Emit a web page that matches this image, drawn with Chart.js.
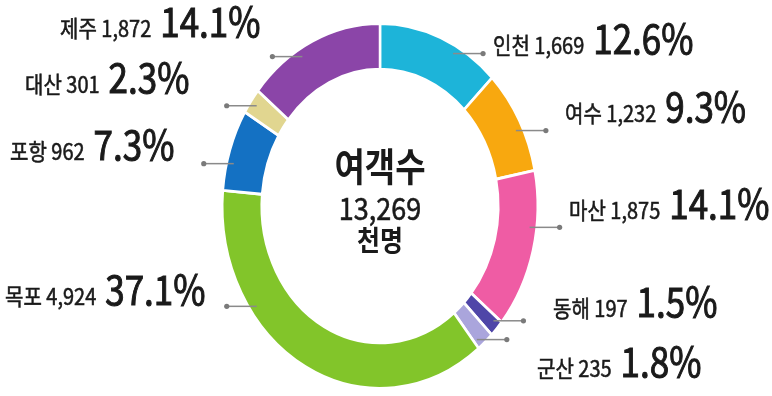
<!DOCTYPE html>
<html>
<head>
<meta charset="utf-8">
<script src="https://cdn.jsdelivr.net/npm/chart.js@4.4.0/dist/chart.umd.min.js"></script>
<style>
  html, body { margin: 0; padding: 0; background: #fff; }
  canvas { display: block; }
</style>
</head>
<body>
<canvas id="chart" width="772" height="396"></canvas>
<script>
// data
const ports = ['인천', '여수', '마산', '동해', '군산', '목포', '포항', '대산', '제주'];
const passengers = [1669, 1232, 1875, 197, 235, 4924, 962, 301, 1872];
const shares = ['12.6', '9.3', '14.1', '1.5', '1.8', '37.1', '7.3', '2.3', '14.1'];
const totalPassengers = 13269;
const colors = ['#1db4d9', '#f8a80f', '#ef5ca4', '#4f46a8', '#aaa5dc', '#82c52a', '#1471c3', '#e1d690', '#8b45a8'];

// the source picture is stretched vertically
const STRETCH = 1.156;

// label layout (left edge of text, baseline) and where on the slice the leader starts
const labelX = [493, 565, 569, 553, 537, 5, 10, 25, 60];
const labelY = [54, 122, 219, 317, 377, 305, 160, 93, 37];
const leaderAt = [0.64, 0.57, 0.36, 0.3, 0.8, 0.7, 0.35, 0.5, 0.39];

const FONT = '"Noto Sans CJK KR", "Noto Sans", sans-serif';

const stretchPlugin = {
    id: 'stretch',
    beforeDatasetsDraw(chart) {
        const arc = chart.getDatasetMeta(0).data[0];
        const ctx = chart.ctx;
        ctx.save();
        ctx.translate(arc.x, arc.y);
        ctx.scale(1, STRETCH);
        ctx.translate(-arc.x, -arc.y);
    },
    afterDatasetsDraw(chart) {
        chart.ctx.restore();
    }
};

// draws text squashed like the source; a thin stroke gives it a medium weight
function stretchedText(ctx, text, x, y, font, align, heavy) {
    ctx.save();
    ctx.translate(x, y);
    ctx.scale(1, STRETCH);
    ctx.font = font;
    ctx.textAlign = align || 'left';
    ctx.textBaseline = 'alphabetic';
    ctx.fillText(text, 0, 0);
    if (heavy) {
        ctx.strokeStyle = ctx.fillStyle;
        ctx.lineWidth = heavy;
        ctx.strokeText(text, 0, 0);
    }
    const w = ctx.measureText(text).width;
    ctx.restore();
    return w;
}

const labelPlugin = {
    id: 'labels',
    afterDraw(chart) {
        const ctx = chart.ctx;
        const arcs = chart.getDatasetMeta(0).data;

        arcs.forEach((arc, i) => {
            const p = arc.getProps(['x', 'y', 'startAngle', 'endAngle', 'outerRadius']);
            const a = p.startAngle + leaderAt[i] * (p.endAngle - p.startAngle);
            const r = p.outerRadius - 7;
            const sx = p.x + r * Math.cos(a);
            const sy = p.y + STRETCH * r * Math.sin(a);
            const ex = sx + (Math.cos(a) >= 0 ? 30 : -30);

            ctx.save();
            ctx.strokeStyle = '#8a8a8a';
            ctx.lineWidth = 1.5;
            ctx.beginPath();
            ctx.moveTo(sx, sy);
            ctx.lineTo(ex, sy);
            ctx.stroke();
            ctx.fillStyle = '#7a7a7a';
            ctx.beginPath();
            ctx.arc(ex, sy, 2.6, 0, Math.PI * 2);
            ctx.fill();
            ctx.restore();

            ctx.fillStyle = '#1a1a1a';
            const small = ports[i] + ' ' + passengers[i].toLocaleString('en-US');
            const w = stretchedText(ctx, small, labelX[i], labelY[i], '20px ' + FONT, 'left', 0.5);
            stretchedText(ctx, shares[i] + '%', labelX[i] + w + 9, labelY[i], '35px ' + FONT, 'left', 0.9);
        });

        // centre text
        const cx = arcs[0].x;
        ctx.fillStyle = '#1a1a1a';
        stretchedText(ctx, '여객수', cx, 181, 'bold 33px ' + FONT, 'center');
        stretchedText(ctx, totalPassengers.toLocaleString('en-US'), cx, 220, '27px ' + FONT, 'center', 0.5);
        stretchedText(ctx, '천명', cx, 251, 'bold 25px ' + FONT, 'center');
    }
};

new Chart(document.getElementById('chart'), {
    type: 'doughnut',
    data: {
        labels: ports,
        datasets: [{
            data: passengers,
            backgroundColor: colors,
            borderColor: '#ffffff',
            borderWidth: 2.5,
            hoverOffset: 0
        }]
    },
    options: {
        responsive: false,
        animation: false,
        cutout: '75%',
        layout: { padding: { left: 221, right: 233, top: 47, bottom: 31 } },
        plugins: {
            legend: { display: false },
            tooltip: { enabled: false }
        }
    },
    plugins: [stretchPlugin, labelPlugin]
});
</script>
</body>
</html>
